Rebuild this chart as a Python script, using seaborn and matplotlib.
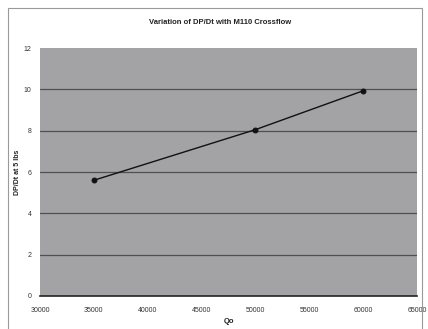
import matplotlib
matplotlib.use("Agg")
import matplotlib.pyplot as plt
import seaborn as sns
import pandas as pd
from matplotlib.patches import Rectangle

qo = [35000, 50000, 60000]
dpdt = [5.6, 8.05, 9.93]
x_ticks = [30000, 35000, 40000, 45000, 50000, 55000, 60000, 65000]
y_ticks = [0, 2, 4, 6, 8, 10, 12]
title = "Variation of DP/Dt with M110 Crossflow"
x_label = "Qo"
y_label = "DP/Dt at 5 lbs"

df = pd.DataFrame({"Qo": qo, "DPDt": dpdt})

sns.set_theme(style="white")
plt.rcParams['font.family'] = ['Liberation Sans', 'DejaVu Sans']

fig = plt.figure(figsize=(4.28, 3.29), dpi=100)
fig.patch.set_facecolor("white")
fig.patches.append(Rectangle((8/428, -2/329), 414/428, 323/329, transform=fig.transFigure,
                             fill=False, edgecolor="#9a9a9a", linewidth=0.8))
ax = fig.add_axes([40/428, 1-296/329, 377/428, 248/329])
ax.set_facecolor("#a3a3a6")
for yv in y_ticks[1:-1]:
    ax.axhline(yv, color="#505050", linewidth=0.9, zorder=1)
sns.lineplot(data=df, x="Qo", y="DPDt", ax=ax, color="#111111", linewidth=1.0,
             marker="o", markersize=3.5, markeredgecolor="#111111", zorder=3)
ax.set_xlim(30000, 65000)
ax.set_ylim(0, 12)
ax.set_xticks(x_ticks)
ax.set_yticks(y_ticks)
ax.set_xticklabels([str(v) for v in x_ticks], fontsize=5, color="#333333")
ax.set_yticklabels([str(v) for v in y_ticks], fontsize=5, color="#333333")
ax.tick_params(axis="both", length=2, pad=4, width=0.6, color="#555555")
ax.tick_params(axis="x", pad=6)
for s in ["top", "right"]:
    ax.spines[s].set_visible(False)
ax.spines["left"].set_visible(False)
ax.spines["bottom"].set_color("#222222")
ax.spines["bottom"].set_linewidth(1.2)
ax.set_xlabel(x_label, fontsize=5.5, fontweight="bold", color="#222222", labelpad=3)
ax.set_ylabel(y_label, fontsize=5, fontweight="bold", color="#222222", labelpad=2)
fig.text(220/428, 1-23/329, title, ha="center", va="center", fontsize=5.5,
         fontweight="bold", color="#222222")
fig.savefig("out.png", dpi=100)
